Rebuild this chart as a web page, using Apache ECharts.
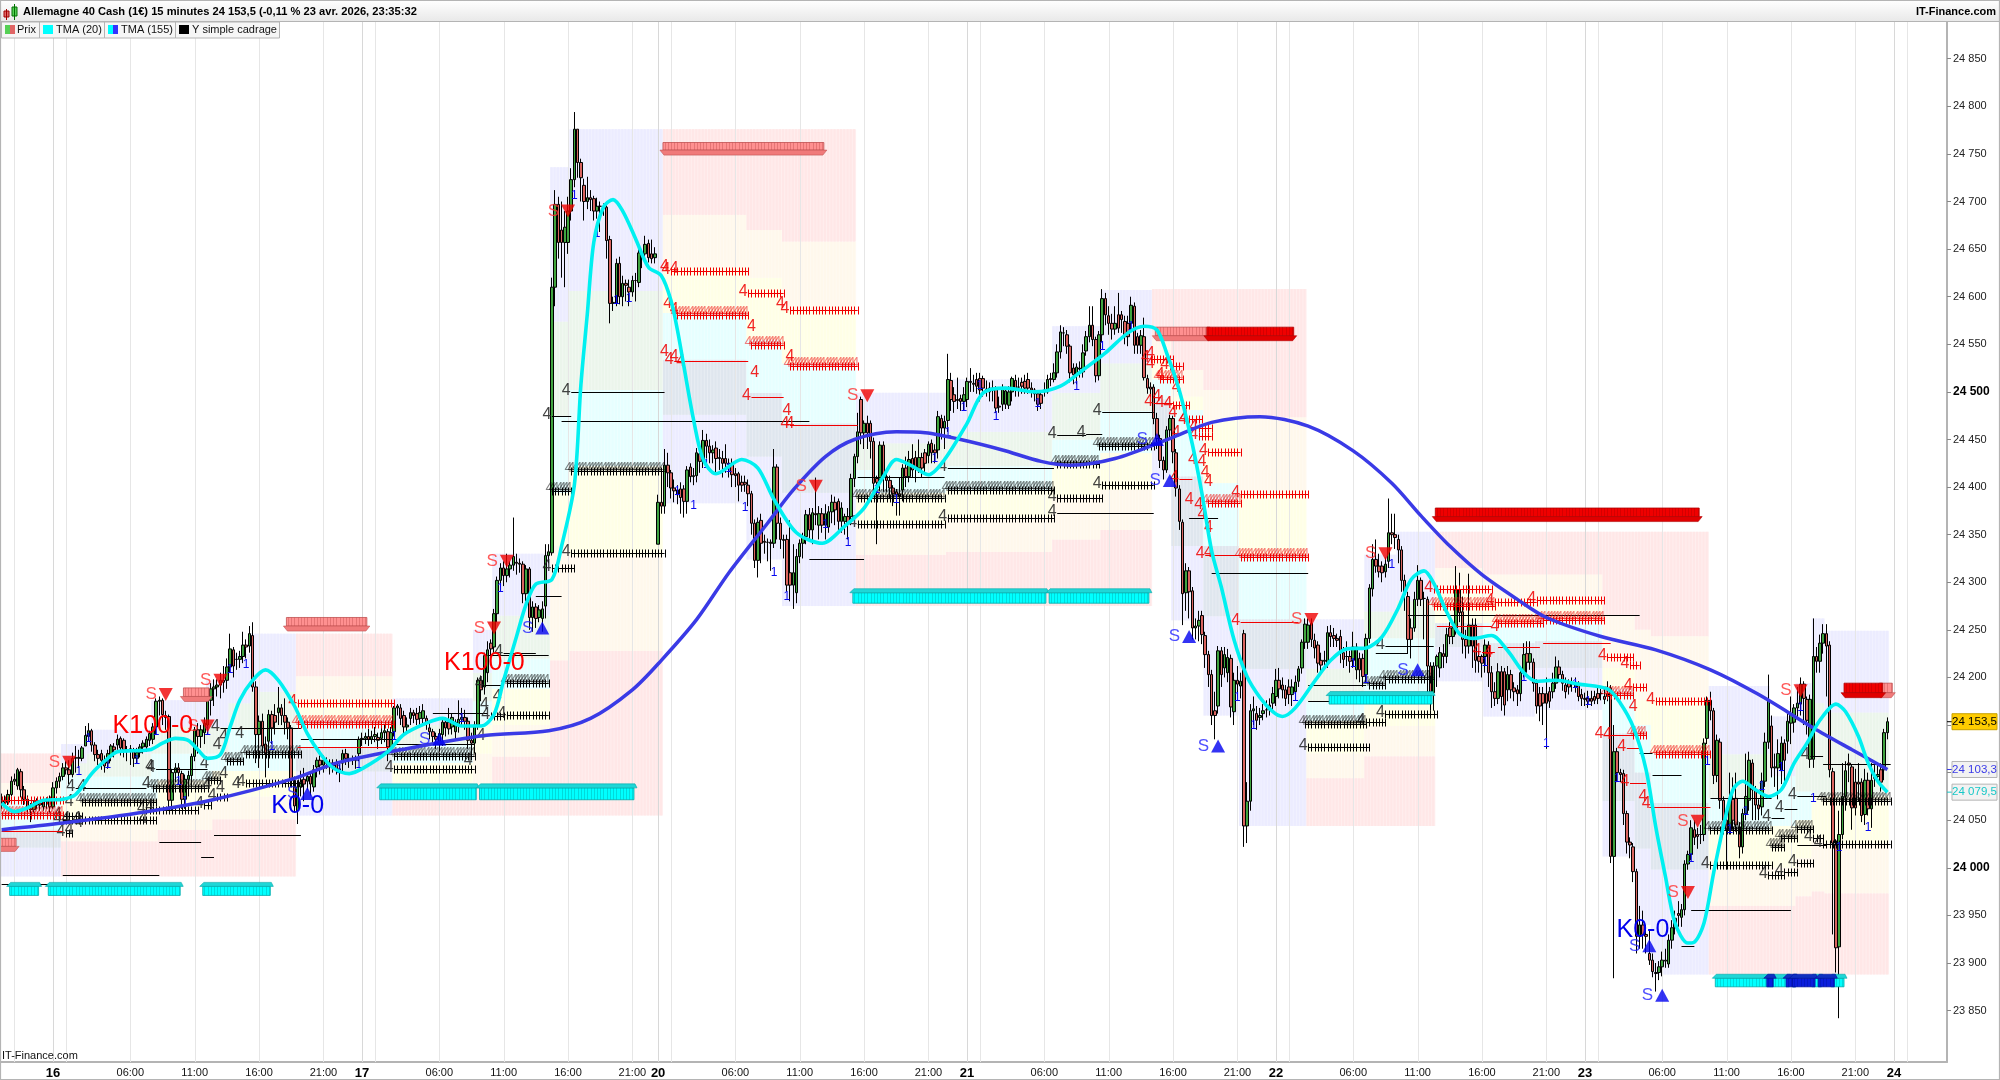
<!DOCTYPE html>
<html><head><meta charset="utf-8"><style>html,body{margin:0;padding:0;background:#fff}#c{width:2000px;height:1080px}</style>
<script src="https://cdn.jsdelivr.net/npm/echarts@6/dist/echarts.min.js"></script></head><body><div id="c"></div>
<script>
const BASE = 24000;
const dayStarts = [16,112,204,300,396,492,588];
const dayNames = ['16','17','20','21','22','23','24'];
const yTicks = [23850,23900,23950,24000,24050,24100,24150,24200,24250,24300,24350,24400,24450,24500,24550,24600,24650,24700,24750,24800,24850];
const yLabels = [23850,23900,23950,24000,24050,24200,24250,24300,24350,24400,24450,24500,24550,24600,24650,24700,24750,24800,24850];
const opens = [70,71,69,77,91,86,101,82,72,62,
61,66,68,64,70,71,64,84,91,96,
105,103,98,115,116,115,128,138,144,129,
119,120,113,110,117,127,129,136,134,124,
123,122,115,121,127,127,134,135,148,175,
176,160,159,71,100,105,99,72,93,97,
117,145,138,142,150,176,188,190,192,197,
197,211,229,219,219,222,234,233,244,190,
140,154,130,133,161,160,163,168,160,153,
147,92,60,85,93,91,96,85,106,113,
108,110,110,107,110,104,110,120,115,113,
114,120,135,136,138,135,138,137,136,142,
143,127,143,168,168,160,148,157,163,162,
157,157,157,147,143,138,131,140,153,153,
148,143,150,156,158,154,134,131,150,197,
190,205,236,232,267,302,315,307,314,318,
321,320,319,288,314,263,274,263,262,275,
328,331,610,697,670,657,657,690,723,776,
741,717,700,704,703,690,695,695,694,660,
593,593,635,600,614,610,605,617,615,646,
645,656,645,641,340,384,380,423,415,399,
397,398,398,385,421,411,412,435,428,449,
443,436,441,430,430,430,425,424,414,414,
405,405,402,393,362,323,365,343,342,342,
341,421,362,345,345,310,297,289,327,341,
348,371,355,372,360,372,360,358,374,384,
385,364,364,369,369,409,432,492,457,467,
467,448,409,408,444,411,407,399,395,393,
397,420,411,430,431,420,431,436,433,446,
439,439,472,462,470,512,497,492,493,490,
492,511,509,513,514,514,503,504,504,504,
485,487,487,486,500,512,505,510,511,513,
504,502,498,497,500,500,514,513,520,542,
562,560,548,525,518,524,521,543,558,570,
555,517,560,598,580,572,566,581,581,574,
572,572,590,558,549,558,514,505,505,472,
451,428,418,460,472,436,398,363,289,312,
291,252,254,265,244,224,203,165,170,228,
210,205,220,164,197,191,246,44,70,165,
162,158,162,166,171,173,180,197,192,187,
190,182,185,196,210,237,237,257,239,234,
218,217,215,247,244,241,243,226,222,222,
218,208,220,220,203,241,293,324,317,317,
311,322,352,350,345,334,302,285,252,252,
282,302,283,282,212,184,212,210,225,222,
252,243,252,292,269,240,233,255,255,222,
222,222,234,205,185,178,206,206,187,203,
189,187,183,205,225,216,216,194,183,183,
183,185,185,194,211,203,192,194,194,190,
192,182,178,178,178,180,183,183,180,183,
189,12,122,100,99,57,27,22,-4,-72,
-60,-70,-90,-97,-110,-110,-104,-98,-101,-76,
-63,-48,-52,-44,4,14,40,35,35,35,
136,176,165,97,132,71,50,40,72,73,
43,22,57,71,110,82,66,64,91,132,
149,105,105,102,131,133,152,153,168,172,
193,177,114,114,222,217,236,246,234,101,
24,-83,35,75,110,106,90,90,90,56,
92,62,96,96,103,103,142];
const closes = [71,69,77,91,93,103,82,72,62,61,
66,70,66,70,71,64,84,91,96,105,
103,98,115,116,115,126,139,144,129,119,
115,113,107,120,128,124,135,126,124,123,
125,115,121,127,131,135,141,148,175,176,
161,158,71,100,105,100,72,93,97,117,
145,138,145,152,176,188,190,192,197,195,
211,230,212,219,222,234,232,246,190,140,
154,128,120,161,147,153,168,160,153,147,
92,65,85,90,88,96,88,103,113,108,
113,110,107,110,104,100,120,115,113,114,
113,135,136,138,135,138,140,134,142,144,
127,142,168,170,157,148,150,163,160,156,
163,165,152,143,138,135,141,153,147,146,
158,153,156,158,154,134,131,150,197,187,
223,229,230,267,302,315,307,314,318,327,
320,319,288,314,263,274,262,271,272,328,
332,610,697,657,657,673,690,723,776,741,
725,700,704,702,690,695,695,693,659,593,
594,635,600,614,612,605,617,617,646,645,
655,641,640,645,384,380,423,415,399,396,
392,389,385,418,411,412,436,427,449,443,
436,439,430,431,425,425,424,413,412,402,
402,403,393,362,323,363,341,342,342,341,
421,362,345,344,297,297,310,327,341,348,
371,355,373,371,372,360,372,374,384,376,
364,378,369,362,409,432,458,457,467,457,
448,404,405,444,411,407,399,393,392,390,
420,411,429,418,420,431,420,425,445,436,
436,474,462,469,513,492,490,491,490,497,
511,510,508,506,502,504,502,500,502,483,
484,504,501,500,514,503,505,506,504,504,
502,498,487,488,502,513,513,520,542,563,
562,548,520,518,526,525,541,558,570,555,
517,560,598,581,572,566,572,567,576,558,
558,591,549,549,559,515,504,503,472,451,
428,418,460,472,437,399,364,288,312,290,
252,254,260,245,224,203,160,160,228,203,
224,221,169,197,193,196,44,70,165,167,
155,160,165,166,166,183,197,188,187,178,
182,190,195,209,237,256,255,240,231,215,
213,218,247,243,241,239,226,219,222,217,
232,232,208,201,241,294,324,317,311,310,
319,352,350,347,334,302,287,240,240,282,
302,282,283,212,184,212,222,226,222,245,
243,252,292,268,240,233,255,233,218,217,
215,234,205,185,178,206,180,171,203,187,
185,183,205,224,216,225,194,170,170,173,
173,175,194,211,203,194,185,190,194,195,
180,178,177,175,175,176,178,183,177,180,
12,122,100,98,57,27,24,-4,-72,-60,
-70,-72,-97,-109,-111,-104,-97,-97,-76,-63,
-53,-50,-44,4,14,42,32,33,35,131,
176,165,97,134,71,50,40,73,50,45,
22,57,75,113,82,66,62,91,132,176,
105,106,120,131,113,154,162,168,173,193,
178,155,177,222,217,236,246,233,103,26,
-84,35,75,102,108,63,63,88,55,92,
62,92,94,98,90,142,153.5];
const highs = [78,76,82,96,99,105,104,86,76,68,
70,73,71,73,74,76,90,95,100,110,
112,113,121,128,124,128,149,152,146,132,
124,124,118,124,130,131,140,138,136,128,
129,126,126,130,134,138,144,152,178,180,
178,165,161,104,110,110,102,98,102,120,
148,152,150,158,180,194,198,198,205,212,
220,246,232,226,228,248,240,254,258,196,
160,162,138,166,165,172,190,172,178,158,
150,96,92,102,105,100,100,108,116,118,
118,116,114,114,114,108,124,125,120,118,
118,138,142,142,146,144,148,142,152,150,
146,148,170,172,172,165,158,168,166,168,
170,172,160,152,146,142,146,158,158,168,
162,156,176,168,166,158,142,154,200,202,
226,238,240,272,306,320,322,330,322,368,
330,325,322,318,316,280,278,276,280,340,
340,620,712,705,700,690,705,735,794,776,
745,724,726,712,706,704,700,698,696,664,
600,640,642,622,618,618,622,625,650,650,
664,660,660,652,392,420,440,436,418,408,
402,405,402,422,425,420,441,440,460,456,
450,444,448,440,438,445,430,430,420,416,
412,412,408,396,366,368,372,350,346,345,
440,424,368,350,350,365,340,335,345,352,
376,378,378,410,380,378,382,380,392,390,
388,384,372,378,414,435,478,495,470,475,
470,452,412,448,448,414,412,402,398,410,
424,432,438,445,438,450,436,440,448,450,
445,480,476,475,540,520,505,515,497,505,
515,525,518,520,520,517,512,510,512,506,
495,508,505,506,516,518,515,515,518,520,
510,504,500,500,510,518,520,530,550,570,
568,565,550,530,530,532,550,564,590,590,
558,564,608,604,590,582,590,604,585,580,
580,600,594,562,565,578,518,510,508,478,
455,432,464,476,475,440,402,366,320,316,
295,262,270,270,248,228,208,185,233,232,
232,230,224,205,212,205,250,90,172,180,
170,168,172,176,178,190,209,210,200,192,
198,198,202,212,240,262,262,262,246,238,
226,228,254,255,252,246,250,232,238,228,
248,236,226,225,246,298,340,345,330,322,
326,388,372,372,350,338,308,290,262,290,
318,305,290,285,216,216,224,232,235,252,
258,256,317,310,285,250,309,262,262,228,
224,240,238,212,195,215,212,210,212,208,
195,192,212,236,238,238,220,198,190,190,
200,190,205,222,218,207,200,198,200,200,
196,188,184,186,186,186,190,188,188,196,
192,150,126,104,103,60,32,26,-1,-40,
-45,-60,-65,-90,-100,-98,-88,-85,-70,-55,
-45,-35,-38,8,18,50,50,42,45,136,
180,185,168,140,136,75,62,100,95,100,
48,62,120,122,114,86,72,100,142,203,
160,120,135,138,135,162,180,172,190,200,
196,180,182,262,232,245,256,256,238,105,
30,60,110,112,120,108,104,110,94,104,
100,110,108,110,110,146,158];
const lows = [62,64,66,75,87,82,74,66,56,48,
58,62,60,60,62,58,62,78,84,92,
98,88,95,100,105,112,128,133,122,112,
108,103,100,104,112,116,124,118,116,112,
108,106,110,116,120,122,128,130,140,160,
150,145,62,60,90,88,62,62,75,85,
112,120,126,130,140,160,170,180,178,184,
188,205,200,208,210,215,220,226,185,110,
105,115,95,105,130,140,150,150,140,135,
85,58,46,75,70,82,76,80,95,98,
100,104,98,100,98,90,100,108,105,108,
104,112,128,130,128,130,132,125,130,132,
112,122,138,160,150,140,142,150,152,150,
150,152,145,135,130,125,122,128,138,140,
140,135,142,148,145,125,120,120,145,175,
182,195,222,226,258,295,296,300,305,312,
308,310,278,280,250,248,252,258,248,262,
320,328,590,640,620,610,645,680,715,725,
700,680,692,690,680,682,668,685,640,572,
585,590,592,590,595,590,600,595,610,630,
640,636,635,635,340,372,372,400,388,384,
382,372,368,372,405,402,405,415,420,430,
425,425,415,418,410,415,410,400,400,385,
395,395,380,350,315,305,320,330,322,312,
336,345,335,325,290,280,272,278,320,325,
340,345,340,360,345,352,345,352,362,360,
355,352,350,345,360,400,425,445,440,440,
430,395,340,396,395,395,388,380,370,370,
385,400,405,410,405,415,410,415,425,425,
425,430,450,440,458,480,478,482,480,480,
484,500,500,498,490,495,495,490,490,478,
478,480,482,482,490,495,495,498,498,498,
494,490,480,482,495,498,506,510,515,535,
548,540,510,508,508,515,515,538,552,548,
510,512,552,570,560,555,560,562,562,550,
548,566,540,540,540,512,498,495,466,440,
420,408,415,450,425,390,355,255,270,262,
240,240,238,235,210,190,150,135,162,190,
200,195,158,150,180,178,22,26,60,150,
145,150,155,158,160,165,170,178,178,170,
172,170,176,190,204,230,230,232,220,205,
205,210,210,232,232,232,215,210,212,205,
210,198,195,190,194,236,285,310,305,300,
305,315,340,335,320,290,270,225,220,248,
275,275,240,178,165,165,190,200,210,215,
235,235,245,258,225,220,225,210,205,205,
200,205,190,168,170,172,165,160,175,178,
175,170,175,200,205,208,185,162,154,150,
125,168,178,188,195,186,178,182,185,184,
175,170,170,168,170,172,172,176,172,175,
5,-116,90,90,45,15,10,-15,-90,-85,
-85,-90,-102,-115,-130,-118,-114,-105,-105,-85,
-70,-62,-62,-50,-2,8,24,20,25,28,
130,155,88,90,62,40,-2,35,40,38,
10,15,50,60,50,50,50,55,85,125,
95,85,72,88,85,120,130,142,158,160,
150,140,105,105,205,205,225,180,95,-70,
-110,-158,30,60,90,40,55,70,48,45,
55,42,85,90,80,92,135];
const tma20 = [[0,68],[4,59],[8,63],[13,71],[19,72],[23,77],[28,99],[32,112],[36,122],[41,123],[46,124],[50,131],[54,136],[58,134],[61,124],[64,115],[68,119],[71,148],[74,176],[78,197],[82,208],[86,197],[91,170],[95,141],[99,120],[103,105],[108,99],[113,106],[120,122],[125,140],[132,152],[137,157],[143,149],[149,149],[153,161],[156,197],[160,243],[163,277],[166,298],[171,303],[174,338],[178,403],[180,507],[182,582],[184,657],[187,694],[190,702],[193,690],[197,661],[201,631],[205,622],[208,596],[210,565],[212,527],[215,471],[218,429],[222,414],[230,429],[235,420],[240,387],[247,352],[255,341],[262,359],[268,378],[274,411],[278,429],[283,422],[288,413],[293,429],[300,467],[305,499],[312,504],[321,500],[329,506],[336,523],[343,541],[350,562],[355,569],[359,565],[362,541],[366,501],[370,445],[373,393],[376,333],[379,295],[383,239],[387,201],[391,179],[395,164],[398,159],[402,168],[408,196],[413,218],[418,230],[424,231],[429,243],[434,273],[438,303],[442,312],[445,299],[449,269],[453,246],[457,241],[463,244],[468,228],[473,205],[477,196],[483,197],[490,193],[499,188],[503,173],[507,148],[511,103],[514,43],[517,-9],[520,-58],[524,-79],[526,-78],[529,-58],[532,-5],[535,43],[538,82],[541,91],[545,82],[549,75],[553,82],[557,110],[561,131],[565,155],[570,172],[573,164],[577,138],[580,110],[583,91],[586,79.5]];
const tma155 = [[0,40],[19,47],[45,59],[65,71],[91,94],[104,110],[124,124],[150,139],[170,144],[183,157],[196,187],[205,218],[216,261],[226,310],[238,362],[246,397],[256,432],[265,450],[278,458],[287,457],[298,450],[311,439],[323,427],[332,423],[346,430],[363,451],[376,468],[391,474],[406,464],[420,438],[432,404],[441,370],[450,338],[460,308],[471,282],[480,263],[497,243],[514,229],[531,208],[546,182],[563,147],[575,124],[586,103.3]];
const zoneColors = {r:'#ffe7e7',c:'#fff8ec',y:'#ffffe6',a:'#e6ffff',g:'#ebf5eb',l:'#ececff',b:'#dfe6ee'};
const zoneRows = [
[0,19,89,120,'r'],[0,19,71,89,'c'],[0,19,40,71,'a'],[0,19,21,40,'b'],[0,19,-9,21,'l'],
[19,49,-9,28,'r'],[49,66,-9,40,'r'],[66,92,-9,51,'r'],[19,49,28,50,'c'],[49,66,40,62,'c'],[66,92,51,75,'c'],
[19,49,50,72,'y'],[49,66,62,92,'y'],[66,92,75,102,'y'],[19,47,72,96,'a'],[47,49,72,120,'a'],[49,66,92,120,'a'],[66,71,102,120,'a'],[71,92,102,145,'a'],
[19,27,96,110,'g'],[27,47,96,120,'g'],[47,71,120,148,'g'],[71,78,145,173,'g'],[78,92,145,185,'g'],
[19,27,110,130,'l'],[27,47,120,145,'l'],[47,64,148,176,'l'],[64,71,148,197,'l'],[71,78,173,225,'l'],[78,92,185,246,'l'],
[92,122,201,246,'r'],[92,122,176,201,'c'],[92,122,155,176,'y'],[92,122,127,155,'a'],[92,122,101,127,'b'],[92,122,55,101,'l'],
[122,147,150,178,'l'],[122,147,130,150,'g'],[122,147,110,130,'a'],[122,147,90,110,'y'],[122,147,75,90,'c'],[122,147,55,75,'r'],
[147,153,55,85,'r'],[147,153,85,120,'c'],[147,153,120,150,'y'],[147,153,150,175,'a'],[147,153,175,205,'g'],[147,153,205,250,'l'],
[153,171,55,117,'r'],[153,171,117,150,'c'],[153,171,150,188,'y'],[153,171,188,220,'a'],[153,171,220,265,'g'],[153,171,265,330,'l'],
[171,177,55,218,'r'],[171,177,218,338,'c'],[171,177,338,394,'y'],[171,177,394,474,'a'],[171,177,474,574,'g'],[171,177,574,736,'l'],
[177,206,55,228,'r'],[177,206,228,328,'c'],[177,206,328,422,'y'],[177,206,422,502,'a'],[177,206,502,606,'g'],[177,206,606,776,'l'],
[206,232,383,476,'l'],[206,232,476,534,'b'],[206,232,534,583,'a'],[206,232,583,630,'y'],[206,232,630,686,'c'],[206,232,686,776,'r'],
[232,243,324,432,'l'],[232,243,432,499,'b'],[232,243,499,555,'a'],[232,243,555,620,'y'],[232,243,620,670,'c'],[232,243,670,776,'r'],
[243,266,275,394,'l'],[243,266,394,467,'b'],[243,266,467,530,'a'],[243,266,530,586,'y'],[243,266,586,658,'c'],[243,266,658,776,'r'],
[266,294,275,329,'r'],[266,294,329,362,'c'],[266,294,362,394,'y'],[266,294,394,418,'a'],[266,294,418,446,'g'],[266,294,446,499,'l'],
[294,327,275,332,'r'],[294,327,332,369,'c'],[294,327,369,397,'y'],[294,327,397,422,'a'],[294,327,422,458,'g'],[294,327,458,513,'l'],
[327,342,275,345,'r'],[327,342,345,390,'c'],[327,342,390,425,'y'],[327,342,425,450,'a'],[327,342,450,499,'g'],[327,342,499,569,'l'],
[342,358,275,355,'r'],[342,358,355,397,'c'],[342,358,397,436,'y'],[342,358,436,480,'a'],[342,358,480,530,'g'],[342,358,530,607,'l'],
[358,364,555,608,'r'],[358,364,534,555,'c'],[358,364,513,534,'y'],[358,364,492,513,'a'],[358,364,450,492,'b'],[358,364,408,450,'l'],
[364,374,523,608,'r'],[364,374,495,523,'c'],[364,374,481,495,'y'],[364,374,411,481,'a'],[364,374,338,411,'b'],[364,374,260,338,'l'],
[374,385,502,608,'r'],[374,385,470,502,'c'],[374,385,404,470,'y'],[374,385,338,404,'a'],[374,385,264,338,'b'],[374,385,160,264,'l'],
[385,406,473,608,'r'],[385,406,393,473,'c'],[385,406,329,393,'y'],[385,406,261,329,'a'],[385,406,209,261,'b'],[385,406,44,209,'l'],
[406,424,209,261,'l'],[406,424,175,209,'g'],[406,424,154,175,'a'],[406,424,120,154,'y'],[406,424,94,120,'c'],[406,424,44,94,'r'],
[424,434,269,329,'l'],[424,434,241,269,'g'],[424,434,175,241,'a'],[424,434,149,175,'y'],[424,434,117,149,'c'],[424,434,44,117,'r'],
[434,446,280,353,'l'],[434,446,241,280,'g'],[434,446,175,241,'a'],[434,446,149,175,'y'],[434,446,117,149,'c'],[434,446,44,117,'r'],
[446,461,315,353,'r'],[446,461,288,315,'c'],[446,461,257,288,'y'],[446,461,232,257,'b'],[446,461,196,232,'l'],
[461,477,308,353,'r'],[461,477,282,308,'c'],[461,477,257,282,'y'],[461,477,236,257,'a'],[461,477,208,236,'b'],[461,477,159,208,'l'],
[477,498,308,353,'r'],[477,498,278,308,'c'],[477,498,260,278,'y'],[477,498,238,260,'a'],[477,498,210,238,'b'],[477,498,166,210,'l'],
[498,508,265,353,'r'],[498,508,210,265,'c'],[498,508,188,210,'y'],[498,508,141,188,'a'],[498,508,70,141,'b'],[498,508,12,70,'l'],
[508,513,250,353,'r'],[508,513,176,250,'c'],[508,513,150,176,'y'],[508,513,100,150,'a'],[508,513,20,100,'b'],[508,513,-60,20,'l'],
[513,531,243,353,'r'],[513,531,176,243,'c'],[513,531,120,176,'y'],[513,531,68,120,'a'],[513,531,-2,68,'b'],[513,531,-112,-2,'l'],
[531,550,119,191,'l'],[531,550,73,119,'g'],[531,550,40,73,'a'],[531,550,2,40,'y'],[531,550,-40,2,'c'],[531,550,-112,-40,'r'],
[550,558,96,159,'l'],[550,558,44,96,'a'],[550,558,0,44,'y'],[550,558,-40,0,'c'],[550,558,-112,-40,'r'],
[558,563,120,194,'l'],[558,563,80,120,'g'],[558,563,50,80,'a'],[558,563,10,50,'y'],[558,563,-30,10,'c'],[558,563,-112,-30,'r'],
[563,567,173,262,'l'],[563,567,75,173,'g'],[563,567,30,75,'y'],[563,567,-25,30,'c'],[563,567,-112,-25,'r'],
[567,587,163,249,'l'],[567,587,75,163,'g'],[567,587,26,75,'y'],[567,587,-27,26,'c'],[567,587,-112,-27,'r']];
const blackLines = [[0,19,-17,0],[19,49,-8,0],[49,62,27,0],[62,66,11,0],[66,93,34,0],[23,45,84,1],[48,64,104,1],[68,93,147,1],[93,122,135,0],[122,147,130,0],[134,151,163,0],[150,156,192,1],[151,170,224,0],[156,166,226,1],[166,174,286,0],[171,177,475,1],[177,206,500,1],[174,251,469,0],[251,268,324,0],[266,293,411,0],[294,327,420,1],[328,358,373,1],[328,337,455,1],[337,342,456,1],[342,358,479,1],[369,378,367,0],[376,406,310,0],[406,424,192,0],[406,414,175,0],[430,445,233,1],[427,437,226,0],[437,509,266,0],[509,513,121,0],[513,522,97,0],[522,526,-82,0],[525,556,-44,0],[531,550,73,0],[550,554,52,1],[554,558,62,1],[558,567,75,1],[562,566,118,1],[558,567,24,0],[566,587,109,0]];
const blackPlus = [[19,25,54],[19,25,50],[20,22,37],[25,48,50],[45,61,61],[63,65,66],[67,70,74],[76,93,89],[122,147,104],[157,170,161],[152,156,159],[171,178,315],[177,206,331],[266,293,361],[294,327,367],[328,342,389],[342,358,402],[406,425,127],[424,430,153],[430,446,162],[531,550,3],[549,554,-8],[554,558,-4],[558,563,5],[563,566,31],[566,587,25]];
const blackHatch = [[25,48,69],[47,64,84],[64,68,92],[70,75,112],[76,93,120],[122,147,117],[157,170,194],[171,177,396],[177,206,417],[266,293,389],[294,327,397],[328,341,424],[341,358,443],[405,424,151],[425,430,192],[430,445,198],[531,550,40],[550,554,22],[553,558,31],[558,563,41],[566,587,70]];
const redLines = [[0,19,39,0],[92,122,127,0],[209,232,532,1],[233,243,495,1],[245,266,465,1],[358,364,488,1],[366,370,408,1],[374,385,329,1],[385,403,258,1],[446,463,254,0],[460,464,227,1],[465,478,232,0],[479,498,236,0],[494,500,236,0],[498,507,140,1],[505,509,126,1],[506,511,89,1],[512,531,64,0]];
const redPlus = [[0,19,71.5],[92,122,173],[208,232,627],[232,243,604],[245,266,586],[357,364,535],[363,367,527],[364,369,486],[369,373,471],[372,376,462],[372,376,454],[375,385,437],[385,406,393],[445,463,293],[464,477,279],[477,498,281],[499,507,222],[506,509,213],[507,511,190],[514,531,175]];
const redHatch = [[0,19,55.8],[92,122,151],[210,232,581],[233,243,549],[245,266,527],[360,367,514],[375,385,383],[385,406,327],[445,464,275],[465,479,257],[479,498,260],[499,507,182],[507,511,140],[514,531,120]];
const blackFours = [[25,85],[21,70],[20,52],[21,40],[24,47],[46,106],[45,89],[46,64],[44,52],[63,110],[67,129],[69,138],[74,141],[64,87],[69,99],[68,84],[73,89],[154,180],[150,171],[149,139],[145,113]];
const redFours = [[206,632],[209,630],[207,593],[209,586],[206,542],[209,537],[211,532],[233,569],[234,520],[245,537],[244,480],[245,467],[242,593],[357,540],[357,530],[360,518],[359,495],[360,489],[365,504],[364,478],[365,457],[367,471],[370,429],[373,427],[374,415],[375,406],[369,387],[372,382],[373,371],[375,357],[375,331],[507,169],[510,75],[511,68],[464,253],[462,226],[499,140]];
const blueOnes = [[24,101],[27,136],[33,108],[42,113],[48,143],[55,91],[57,70],[64,143],[71,208],[76,213],[84,127],[105,103],[111,108],[122,138],[143,157],[155,293],[178,706],[185,666],[191,596],[195,598],[210,395],[215,380],[219,423],[226,419],[231,378],[240,310],[244,285],[256,360],[263,342],[272,397],[278,387],[290,430],[294,457],[299,483],[304,506],[309,474],[322,488],[334,505],[342,548],[351,569],[384,179],[389,149],[402,179],[420,214],[424,198],[432,318],[461,216],[473,200],[480,130],[489,192],[493,175],[502,94],[525,10],[530,112],[537,40],[542,59],[547,85],[553,105],[559,168],[563,73],[571,21],[580,42]];
const cyanBlocks = [[3,11,-29,-19.5],[15,55,-29,-19.5],[63,83,-29,-19.5],[118,147,71.5,84],[149,196,71.5,84],[265,324,278,289],[326,356,278,289],[413,444,172,181],[533,549,-125,-116],[550,555,-125,-116],[557,557,-125,-116],[563,565,-125,-116],[569,572,-125,-116]];
const blueBlocks = [[549,550,-125,-116],[555,557,-125,-116],[557,563,-125,-116],[565,569,-125,-116]];
const pinkBlocks = [[0,4,22.5,31],[57,64,180,189],[89,113,254,263],[206,255,754,762],[359,375,559,568],[584,587,184,194]];
const redBlocks = [[375,401,559,568],[446,527,369,378],[573,584,184,194]];
const sellSignals = [[21,111],[51,182],[64,149],[68,197],[153,252],[157,322],[176,690],[253,401],[269,496],[407,261],[430,330],[524,-26],[527,49],[559,186]];
const buySignals = [[95,78],[136,135],[168,252],[359,450],[363,407],[369,243],[378,128],[440,208],[512,-82],[516,-134]];
const bigLabels = [[47,149,'K100-0','#ff0000'],[150,215,'K100-0','#ff0000'],[92,65,'K0-0','#0000ee'],[510,-65,'K0-0','#0000ee']];
const priceTags = [[153.5,'24 153,5','#ffcc00','#000','#c8a000'],[103.3,'24 103,3','#f2f2f2','#3a3ae8','#b5b5b5'],[79.5,'24 079,5','#f2f2f2','#18c8c8','#b5b5b5']];
const hourLabels = {24:'06:00',44:'11:00',64:'16:00',84:'21:00'};

const FONT = '"Liberation Sans", Arial, sans-serif';
const SLOTS = 605;
const cats = new Array(SLOTS).fill('');
const tickSet = new Set([4]); const dayLines = []; const hourLines = [4];
dayStarts.forEach((d,k)=>{
  cats[d]=dayNames[k]; tickSet.add(d); dayLines.push(d);
  const len = (k+1<dayStarts.length?dayStarts[k+1]:SLOTS)-d;
  [4,24,44,64,84].forEach(h=>{ if(h<len && d+h<SLOTS){tickSet.add(d+h); hourLines.push(d+h); if(hourLabels[h]&&k<6) cats[d+h]=hourLabels[h];}});
});
const candles = opens.map((o,i)=>[BASE+o,BASE+closes[i],BASE+lows[i],BASE+highs[i]]);
const rows = [];
const addRows=(list,kind,color)=>list.forEach(r=>{ if(r[1]>r[0]) rows.push({i0:r[0],i1:r[1],v:BASE+r[2],kind,color,lead:kind==='L'?r[3]===1:true}); });
addRows(blackLines,'L','#000'); addRows(blackPlus,'P','#000'); addRows(blackHatch,'H','#000');
addRows(redLines,'L','#f00000'); addRows(redPlus,'P','#f00000'); addRows(redHatch,'H','#f00000');

const idx = a => a.map((_,i)=>[i,BASE]);
const txt=(x,y,s,fill,size,op)=>({type:'text',silent:true,style:{text:s,x,y,fill,font:size+'px '+FONT,align:'center',verticalAlign:'middle',opacity:op==null?1:op}});
const seg=(x1,y1,x2,y2,stroke,w,op)=>({type:'line',silent:true,shape:{x1,y1,x2,y2},style:{stroke,lineWidth:w||1,opacity:op==null?1:op}});

function renderZone(p,api){
  const z=zoneRows[p.dataIndex], s=api.size([1,0])[0];
  const a=api.coord([z[0],BASE+z[3]]), b=api.coord([z[1]-1,BASE+z[2]]);
  const col=zoneColors[z[4]]; const ch=[];
  ch.push({type:'rect',silent:true,shape:{x:a[0]-s/2,y:a[1],width:b[0]-a[0]+s,height:b[1]-a[1]},style:{fill:col,opacity:.72}});
  for(let i=z[0];i<z[1];i++){const x=api.coord([i,BASE])[0]; ch.push({type:'rect',silent:true,shape:{x:x-s/2,y:a[1],width:s-1,height:b[1]-a[1]},style:{fill:col}});}
  return {type:'group',children:ch};
}
function renderVLine(list,color,w){return (p,api)=>{const x=Math.round(api.coord([list[p.dataIndex],BASE])[0])+.5; const c=p.coordSys; return seg(x,c.y,x,c.y+c.height,color,w);};}
function renderRow(p,api){
  const r=rows[p.dataIndex]; const a=api.coord([r.i0,r.v]), b=api.coord([r.i1,r.v]); const y=Math.round(a[1])+.5; const ch=[];
  ch.push(seg(a[0],y,b[0],y,r.color,1));
  if(r.kind!=='L'){ for(let i=r.i0;i<=r.i1;i++){const x=Math.round(api.coord([i,r.v])[0])+.5; ch.push(seg(x,y-4,x,y+4,r.color,1)); if(r.kind==='H') ch.push(txt(x-3,y-3,'4',r.color,14,.5));} }
  if(r.lead && r.kind!=='H') ch.push(txt(a[0]-5,y-2,'4',r.color==='#000'?'#222':r.color,16,.85));
  return {type:'group',children:ch};
}
function renderFour(list,col){return (p,api)=>{const q=list[p.dataIndex]; const a=api.coord([q[0],BASE+q[1]]); return txt(a[0],a[1],'4',col,16,.85);};}
function renderOne(p,api){const q=blueOnes[p.dataIndex]; const a=api.coord([q[0],BASE+q[1]]); return txt(a[0],a[1],'1','#0808f0',12);}
function renderBlock(list,kind,fill,edge,roof){return (p,api)=>{
  const b=list[p.dataIndex], s=api.size([1,0])[0];
  const t=api.coord([b[0],BASE+b[3]]), e=api.coord([b[1],BASE+b[2]]); const ch=[];
  const xL=t[0]-s/2, xR=e[0]+s/2;
  ch.push({type:'rect',silent:true,shape:{x:xL,y:t[1],width:xR-xL,height:e[1]-t[1]},style:{fill,stroke:edge,lineWidth:.8}});
  for(let i=b[0];i<=b[1];i++){const x=Math.round(api.coord([i,BASE])[0])+.5; ch.push(seg(x,t[1],x,e[1],edge,.7,.6));}
  const pts=kind==='up'?[[xL-3,t[1]],[xL+1,t[1]-4],[xR+1,t[1]-4],[xR+3,t[1]]]:[[xL-3,e[1]],[xL+1,e[1]+5],[xR-1,e[1]+5],[xR+3,e[1]]];
  ch.push({type:'polygon',silent:true,shape:{points:pts},style:{fill:roof,stroke:edge,lineWidth:.6}});
  return {type:'group',children:ch};
};}
function renderBig(p,api){const q=bigLabels[p.dataIndex]; const a=api.coord([q[0],BASE+q[1]]); return txt(a[0],a[1],q[2],q[3],25);}
function renderTag(p,api){
  const q=priceTags[p.dataIndex]; const a=api.coord([SLOTS-1,BASE+q[0]]); const c=p.coordSys; const x=c.x+c.width;
  return {type:'group',children:[seg(x,a[1],x+5,a[1],q[3],1),
    {type:'rect',silent:true,shape:{x:x+5,y:a[1]-8,width:45,height:16},style:{fill:q[2],stroke:q[4],lineWidth:1}},
    {type:'text',silent:true,style:{text:q[1],x:x+27.5,y:a[1],fill:q[3],font:'11.5px '+FONT,align:'center',verticalAlign:'middle'}}]};
}
const custom=(name,data,fn,z,extra)=>Object.assign({type:'custom',name,data,renderItem:fn,z,silent:true,clip:false,animation:false,tooltip:{show:false}},extra||{});

const chrome=[
 {type:'rect',z:50,shape:{x:0,y:0,width:2000,height:21},style:{fill:new echarts.graphic.LinearGradient(0,0,0,1,[{offset:0,color:'#ffffff'},{offset:1,color:'#e9e9e9'}])}},
 {type:'line',z:51,shape:{x1:0,y1:.5,x2:2000,y2:.5},style:{stroke:'#b4b4b4'}},
 {type:'line',z:51,shape:{x1:0,y1:21.5,x2:2000,y2:21.5},style:{stroke:'#b4b4b4'}},
 {type:'rect',z:51,shape:{x:4,y:11,width:5,height:6},style:{fill:'#e06666',stroke:'#a00000'}},
 {type:'line',z:51,shape:{x1:6.5,y1:9,x2:6.5,y2:20},style:{stroke:'#a00000'}},
 {type:'rect',z:51,shape:{x:12,y:7,width:5,height:9},style:{fill:'#55d055',stroke:'#007000'}},
 {type:'line',z:51,shape:{x1:14.5,y1:4,x2:14.5,y2:20},style:{stroke:'#007000'}},
 {type:'text',z:51,style:{text:'Allemagne 40 Cash (1\u20ac) 15 minutes 24 153,5 (-0,11 % 23 avr. 2026, 23:35:32',x:23,y:12,font:'bold 11.15px '+FONT,fill:'#000',verticalAlign:'middle'}},
 {type:'text',z:51,style:{text:'IT-Finance.com',x:1996,y:12,font:'bold 11px '+FONT,fill:'#000',align:'right',verticalAlign:'middle'}},
];
[[1,38,'Prix',5,'#55d055','#e06666',17],[39,65,'TMA (20)',43,'#00ffff','#00ffff',56],[104,71,'TMA (155)',108,'#00ffff','#3333ff',121],[175,104,'Y simple cadrage',179,'#000','#000',192]].forEach(l=>{
 chrome.push({type:'rect',z:50,shape:{x:l[0]+.5,y:22,width:l[1],height:16},style:{fill:'#f6f6f6',stroke:'#b4b4b4'}});
 chrome.push({type:'rect',z:51,shape:{x:l[3],y:25,width:5,height:9},style:{fill:l[4]}});
 chrome.push({type:'rect',z:51,shape:{x:l[3]+5,y:25,width:5,height:9},style:{fill:l[5]}});
 chrome.push({type:'text',z:51,style:{text:l[2],x:l[6],y:30,font:'11px '+FONT,fill:'#111',verticalAlign:'middle'}});
});
chrome.push({type:'text',z:51,style:{text:'IT-Finance.com',x:2,y:1056,font:'11px '+FONT,fill:'#111',verticalAlign:'middle'}});
chrome.push({type:'rect',z:52,shape:{x:.5,y:.5,width:1999,height:1079},style:{fill:'none',stroke:'#b4b4b4',lineWidth:1.2}});

const chart=echarts.init(document.getElementById('c'),null,{renderer:'canvas'});
chart.setOption({
 animation:false,backgroundColor:'#fff',graphic:{elements:chrome},
 grid:{left:0,right:53,top:22,bottom:18,containLabel:false},
 xAxis:{type:'category',data:cats,boundaryGap:true,axisLine:{lineStyle:{color:'#b4b4b4',width:2}},
   axisTick:{alignWithLabel:true,length:4,interval:(i)=>tickSet.has(i),lineStyle:{color:'#999'}},
   splitLine:{show:false},
   axisLabel:{interval:(i,v)=>v!=='',margin:5,color:'#111',fontFamily:FONT,fontSize:11,hideOverlap:false,
     formatter:v=>/^\d\d$/.test(v)?`{d|${v}}`:v,rich:{d:{fontWeight:'bold',fontSize:13,fontFamily:FONT,color:'#000'}}}},
 yAxis:{type:'value',position:'right',min:23796,max:24888.6,scale:true,splitLine:{show:false},
   axisLine:{show:true,lineStyle:{color:'#b4b4b4',width:2}},
   axisTick:{show:true,length:4,customValues:yTicks,lineStyle:{color:'#888'}},
   axisLabel:{customValues:yLabels,margin:6,color:'#222',fontFamily:FONT,fontSize:11,
     formatter:v=>{const t=Math.floor(v/1000)+' '+String(v%1000).padStart(3,'0');return v%500===0?`{b|${t}}`:t;},
     rich:{b:{fontWeight:'bold',fontSize:12,fontFamily:FONT,color:'#000'}}}},
 series:[
  custom('zones',idx(zoneRows),renderZone,1),
  custom('hourLines',idx(hourLines),renderVLine(hourLines,'#e6e6e6',1),2),
  custom('dayLines',idx(dayLines),renderVLine(dayLines,'#d8d8d8',1),2),
  {type:'candlestick',name:'Prix',data:candles,barWidth:3,z:3,silent:true,animation:false,
    itemStyle:{color:'#3fa33f',color0:'#d9645f',borderColor:'#000',borderColor0:'#000',borderColorDoji:'#000',borderWidth:1}},
  custom('rows',rows.map((_,i)=>[i,BASE]),renderRow,4),
  custom('blackFours',idx(blackFours),renderFour(blackFours,'#222'),4),
  custom('redFours',idx(redFours),renderFour(redFours,'#f00000'),4),
  custom('ones',idx(blueOnes),renderOne,4),
  custom('cyanBlocks',idx(cyanBlocks),renderBlock(cyanBlocks,'up','#00ffff','#00a8a8','#1fd6d6'),4),
  custom('blueBlocks',idx(blueBlocks),renderBlock(blueBlocks,'up','#0a1edc','#0010a0','#1030c0'),4),
  custom('pinkBlocks',idx(pinkBlocks),renderBlock(pinkBlocks,'down','#ff9090','#c05050','#f07a7a'),4),
  custom('redBlocks',idx(redBlocks),renderBlock(redBlocks,'down','#f00000','#b00000','#e00000'),4),
  {type:'line',name:'TMA (155)',data:tma155.map(p=>[p[0],BASE+p[1]]),smooth:.3,symbol:'none',z:5,silent:true,animation:false,lineStyle:{color:'#3a3ae6',width:3.5}},
  {type:'line',name:'TMA (20)',data:tma20.map(p=>[p[0],BASE+p[1]]),smooth:.3,symbol:'none',z:6,silent:true,animation:false,lineStyle:{color:'#00f0f0',width:3.6}},
  {type:'scatter',name:'sell',data:sellSignals.map(p=>[p[0],BASE+p[1]]),symbol:'triangle',symbolRotate:180,symbolSize:[14,13],z:7,silent:true,animation:false,itemStyle:{color:'#f00000'},
    label:{show:true,formatter:'S',position:'left',distance:2,color:'#ff3030',fontSize:17,fontFamily:FONT}},
  {type:'scatter',name:'buy',data:buySignals.map(p=>[p[0],BASE+p[1]]),symbol:'triangle',symbolSize:[14,13],z:7,silent:true,animation:false,itemStyle:{color:'#0000f0'},
    label:{show:true,formatter:'S',position:'left',distance:2,color:'#2020ff',fontSize:17,fontFamily:FONT}},
  custom('big',idx(bigLabels),renderBig,8),
  custom('tags',idx(priceTags),renderTag,9),
 ]});
</script></body></html>
